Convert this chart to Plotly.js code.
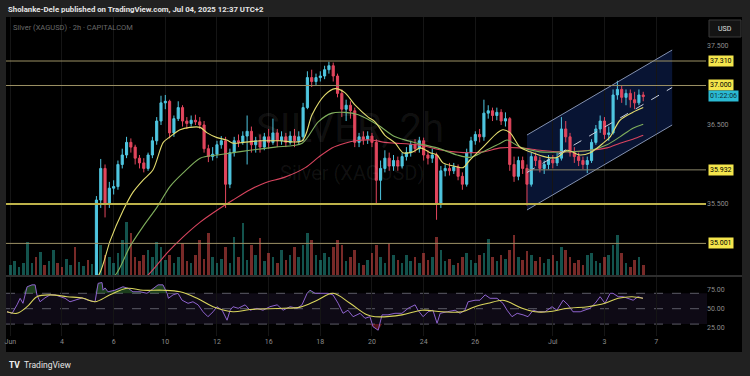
<!DOCTYPE html>
<html><head><meta charset="utf-8">
<script src="https://cdn.plot.ly/plotly-3.0.1.min.js"></script>
<style>html,body{margin:0;padding:0;background:#212121;overflow:hidden}#chart{width:750px;height:376px}</style>
</head><body><div id="chart"></div>
<script>
// ---------- DATA ----------
const tickDays = [0,2,4,6,8,10,12,14,16,18,21,23,25];
const tickLabels = ["Jun","4","6","10","12","16","18","20","24","26","Jul","3","7"];
const barsPerDay = 6;
const openP = [33.30,33.45,33.80,34.05,34.20,34.30,34.35,34.28,34.38,34.25,34.32,34.40,34.28,34.20,34.30,34.35,34.25,34.32,34.40,34.38,
34.42,35.55,35.95,35.50,35.70,35.72,36.00,36.12,36.28,36.22,36.08,36.02,35.95,36.12,36.30,36.55,36.78,36.80,36.40,36.58,
36.72,36.55,36.52,36.56,36.54,36.50,36.20,36.10,36.13,36.25,36.30,35.75,36.15,36.30,36.28,36.36,36.42,36.25,36.30,36.22,
36.35,36.28,36.40,36.30,36.35,36.28,36.36,36.30,36.35,36.72,37.10,37.05,37.10,37.12,37.20,37.25,37.12,36.90,36.70,36.75,
36.68,36.28,36.35,36.32,36.36,36.28,35.80,35.95,36.08,35.98,36.05,35.98,36.10,36.15,36.25,36.20,36.30,36.12,36.08,36.12,
35.50,35.92,35.95,35.92,35.97,35.85,35.75,36.15,36.30,36.38,36.35,36.65,36.68,36.62,36.66,36.55,36.58,36.00,35.85,36.05,
35.95,35.75,36.10,36.05,35.95,36.00,36.06,36.02,36.08,36.45,36.35,36.15,36.10,36.05,36.00,36.05,36.28,36.45,36.55,36.38,
36.40,36.88,36.95,36.85,36.90,36.82,36.78,36.88];
const highP = [33.55,33.85,34.15,34.30,34.45,34.42,34.40,34.45,34.42,34.38,34.48,34.44,34.32,34.36,34.42,34.38,34.36,34.46,34.44,34.50,
35.60,36.07,36.00,35.78,35.80,36.05,36.20,36.35,36.33,36.25,36.12,36.08,36.15,36.35,36.60,36.87,36.88,36.82,36.62,36.80,
36.75,36.60,36.62,36.63,36.60,36.55,36.25,36.22,36.30,36.36,36.35,36.20,36.35,36.38,36.42,36.62,36.48,36.35,36.38,36.40,
36.45,36.58,36.45,36.42,36.40,36.42,36.45,36.42,36.78,37.18,37.20,37.15,37.18,37.25,37.30,37.29,37.15,36.95,36.82,36.80,
36.72,36.40,36.42,36.42,36.40,36.32,36.05,36.18,36.15,36.12,36.10,36.15,36.22,36.30,36.32,36.35,36.34,36.18,36.20,36.15,
35.98,36.00,36.02,36.02,36.00,35.90,36.20,36.35,36.42,36.45,36.82,36.75,36.72,36.72,36.70,36.66,36.60,36.10,36.10,36.10,
36.00,36.15,36.15,36.10,36.05,36.12,36.12,36.15,36.60,36.55,36.40,36.22,36.15,36.10,36.10,36.32,36.50,36.62,36.60,36.48,
36.95,37.06,37.00,36.95,36.95,36.92,36.95,36.92];
const lowP = [33.20,33.40,33.75,34.00,34.10,34.22,34.20,34.25,34.18,34.20,34.28,34.22,34.12,34.15,34.24,34.18,34.20,34.28,34.30,34.34,
34.38,35.45,35.33,35.45,35.62,35.68,35.95,36.08,36.15,36.00,35.95,35.90,35.92,36.08,36.25,36.50,36.70,36.33,36.35,36.55,
36.48,36.45,36.48,36.50,36.45,36.15,36.03,36.05,36.08,36.20,35.45,35.70,36.10,36.22,36.25,36.00,36.15,36.15,36.15,36.18,
36.20,36.25,36.22,36.25,36.22,36.25,36.22,36.26,36.30,36.70,36.98,37.00,37.05,37.08,37.15,37.05,36.85,36.60,36.55,36.58,
36.22,36.22,36.25,36.26,36.22,35.51,35.55,35.90,35.92,35.92,35.92,35.95,36.05,36.10,36.15,36.15,36.05,36.00,36.02,35.30,
35.45,35.85,35.86,35.88,35.80,35.68,35.72,36.10,36.25,36.28,36.30,36.58,36.55,36.56,36.50,36.48,35.92,35.78,35.80,35.88,
35.48,35.72,35.98,35.90,35.88,35.94,35.95,35.98,36.05,36.28,36.10,36.02,35.98,35.94,35.89,36.02,36.25,36.40,36.32,36.30,
36.38,36.82,36.78,36.75,36.72,36.70,36.75,36.80];
const closeP = [33.45,33.80,34.05,34.20,34.30,34.35,34.28,34.38,34.25,34.32,34.40,34.28,34.20,34.30,34.35,34.25,34.32,34.40,34.38,34.42,
35.55,35.95,35.50,35.70,35.72,36.00,36.12,36.28,36.22,36.08,36.02,35.95,36.12,36.30,36.55,36.78,36.80,36.40,36.58,36.72,
36.55,36.52,36.56,36.54,36.50,36.20,36.10,36.13,36.25,36.30,35.75,36.15,36.30,36.28,36.36,36.42,36.25,36.30,36.22,36.35,
36.28,36.40,36.30,36.35,36.28,36.36,36.30,36.35,36.72,37.10,37.05,37.10,37.12,37.20,37.25,37.12,36.90,36.70,36.75,36.68,
36.28,36.35,36.32,36.36,36.28,35.80,35.95,36.08,35.98,36.05,35.98,36.10,36.15,36.25,36.20,36.30,36.12,36.08,36.12,35.50,
35.92,35.95,35.92,35.97,35.85,35.75,36.15,36.30,36.38,36.35,36.65,36.68,36.62,36.66,36.55,36.58,36.00,35.85,36.05,35.95,
35.75,36.10,36.05,35.95,36.00,36.06,36.02,36.08,36.45,36.35,36.15,36.10,36.05,36.00,36.05,36.28,36.45,36.55,36.38,36.40,
36.88,36.95,36.85,36.90,36.82,36.78,36.88,36.86];
const volume = [10,14,8,12,33,12,18,23,10,14, 25,12,8,16,10,28,13,9,15,11, 20,30,20,18,12,22,35,53,42,18,
14,20,25,18,33,28,15,20,12,18, 32,14,12,20,35,16,42,18,12,16, 28,12,38,18,52,15,30,20,37,14,
22,18,12,25,15,20,28,18,30,42, 35,20,15,22,18,28,35,30,14,18, 25,12,10,15,22,30,18,12,32,20,
15,12,20,14,18,12,22,15,18,38, 25,14,16,10,12,18,22,15,12,20, 22,36,18,14,20,16,25,40,18,15,
24,20,14,18,12,16,20,14,28,25, 18,12,15,10,20,22,14,12,18,20, 30,40,22,12,8,15,18,10];

const maFastT = [2.5,3.0,3.47,3.87,4.37,4.75,5.13,5.52,5.92,6.18,6.57,6.95,7.35,7.62,8.0,8.38,8.62,9.02,9.67,10.43,11.3,11.68,12.18,12.57,12.95,13.35,13.85,14.12,14.5,14.9,15.2,15.58,15.87,16.25,16.52,16.75,17.3,17.53,17.8,18.3,18.85,19.07,19.35,19.73,20.12,20.78,21.17,21.55,22.05,22.45,22.95,23.22,23.6,24.1,24.5];
const maFastV = [34.30,34.42,34.63,35.04,35.42,35.65,35.80,35.93,36.28,36.35,36.44,36.47,36.47,36.40,36.34,36.31,36.27,36.28,36.30,36.30,36.30,36.63,36.88,36.96,36.91,36.75,36.60,36.54,36.37,36.27,36.15,36.16,36.21,36.15,36.12,36.02,35.97,35.96,36.06,36.22,36.40,36.44,36.40,36.22,36.16,36.09,36.09,36.18,36.12,36.15,36.27,36.35,36.56,36.66,36.72];
const maMidT = [3.0,3.5,4.13,4.63,5.13,5.68,6.18,6.68,7.35,8.0,8.62,9.28,10.25,11.3,11.92,12.45,12.95,13.47,14.23,14.9,15.75,16.52,17.3,17.8,18.3,18.97,19.23,19.73,20.5,21.4,22.45,23.1,23.6,24.1,24.5];
const maMidV = [34.20,34.40,34.63,34.96,35.21,35.46,35.72,35.89,36.08,36.12,36.15,36.18,36.22,36.27,36.54,36.65,36.66,36.63,36.50,36.35,36.27,36.21,36.12,36.09,36.16,36.27,36.31,36.22,36.16,36.16,36.18,36.25,36.35,36.46,36.51];
const maSlowT = [4.0,4.67,5.42,6.07,6.68,7.35,8.0,8.62,9.28,9.87,10.63,11.42,11.92,12.45,12.95,13.35,14.0,14.5,14.9,15.75,16.75,17.53,18.3,18.97,19.73,20.5,21.28,22.45,23.1,23.6,24.1,24.5];
const maSlowV = [34.20,34.40,34.63,34.88,35.08,35.27,35.42,35.55,35.68,35.77,35.84,35.96,36.09,36.21,36.27,36.30,36.31,36.28,36.27,36.25,36.18,36.15,36.16,36.21,36.21,36.18,36.16,36.18,36.21,36.27,36.32,36.37];

const rsiT = [-0.13,0.07,0.26,0.38,0.49,0.65,0.84,0.96,1.03,1.15,1.34,1.54,1.73,1.92,2.12,2.31,2.50,2.78,3.01,3.28,3.40,3.55,3.59,3.67,3.78,4.05,4.36,4.56,4.75,5.02,5.29,5.52,5.72,5.91,6.07,6.12,6.30,6.49,6.65,6.88,7.07,7.27,7.46,7.65,7.85,8.00,8.20,8.39,8.51,8.62,8.82,9.09,9.28,9.55,9.78,10.05,10.33,10.56,10.83,11.10,11.29,11.49,11.60,11.80,12.07,12.30,12.49,12.69,12.88,13.07,13.27,13.54,13.73,13.92,14.04,14.24,14.39,14.62,14.89,15.16,15.40,15.67,15.78,15.98,16.17,16.36,16.52,16.64,16.91,17.22,17.41,17.60,17.72,17.99,18.18,18.38,18.57,18.84,19.07,19.23,19.42,19.62,19.85,20.04,20.24,20.43,20.70,20.97,21.16,21.40,21.59,21.78,22.06,22.25,22.44,22.64,22.83,23.02,23.22,23.33,23.53,23.72,23.91,24.11,24.30,24.49];
const rsiV = [46,44,55,63.5,57,78.5,81,81,68,59,64,68,68,65.6,63.5,59,61,64,61,59,83,84,74,77,72,74,78.5,76.5,72,72,70,76.5,81,81,70,63.5,68,70,61,57,59,55,46,39.6,46,52.6,48,35,48,52.6,50.5,55,48,50.5,48,52.6,55,48,52.6,50.5,55,70,74,70,70,70,68,57,44,48,39.6,44,37.5,39.6,26.6,22,42,42,44,44,50.5,55,48,39.6,46,48,31,44,46,48,44,48,59,61,61,68,63.5,63.5,57,48,39.6,44,42,39.6,48,46,46,52.6,48,61,55,46,46,48,50.5,57,65.6,57,70,70,65.6,65.6,63.5,61,65.6,63.5];
const rsiMaT = [-0.13,0.26,0.65,1.03,1.54,2.20,2.82,3.28,3.86,4.52,5.14,5.91,6.57,7.23,7.85,8.62,9.28,10.56,11.22,11.88,12.49,13.15,13.81,14.12,15.16,15.94,16.71,17.49,17.99,18.49,19.04,19.27,19.81,20.31,20.82,21.59,22.36,23.02,23.53,24.07,24.49];
const rsiMaV = [46,44,52.6,65.6,68,65.6,63.5,59,68,76.5,74,74,72,63.5,52.6,46,49,50.5,52,61,70,57,42,39.6,42,48,46,46,52.6,57,61,59,50.5,46,46,50.5,52.6,57,63.5,65.6,63.5];

const levelPrices = [37.310, 37.000, 35.932, 35.500, 35.001];
const levelTexts = ["37.310", "37.000", "35.932", "", "35.001"];
const channelT = [20.0, 25.62];
const channelUpper = [36.373, 37.449];
const channelLower = [35.424, 36.500];
const priceTicks = [35.5, 36.5, 37.5];
const priceTickText = ["35.500","36.500","37.500"];
const rsiTicks = [25, 50, 75];
const rsiTickText = ["25.00","50.00","75.00"];
const rsiBands = [70, 50, 30];

// ---------- GEOMETRY ----------
const W=750, H=376, ML=6, MR=44, MT=17, MB=40;
const PW=W-ML-MR, PH=H-MT-MB;
const px = X => (X-ML)/PW;
const py = Y => (H-MB-Y)/PH;

const UP='#4fc6e0', DN='#e2465d';
const barT = openP.map((_, i) => i / barsPerDay);
const volColors = closeP.map((c, i) => c >= openP[i] ? 'rgba(38,166,154,0.5)' : 'rgba(239,83,80,0.5)');

const traces = [];
traces.push({type:'bar', x:barT, y:volume, xaxis:'x', yaxis:'y', width:0.1,
  marker:{color:volColors, line:{width:0}}, hoverinfo:'skip', showlegend:false});
traces.push({type:'candlestick', x:barT, open:openP, high:highP, low:lowP, close:closeP, xaxis:'x', yaxis:'y3',
  increasing:{line:{color:UP,width:1}, fillcolor:UP}, decreasing:{line:{color:DN,width:1}, fillcolor:DN},
  whiskerwidth:0, hoverinfo:'skip', showlegend:false});
const maLine = (t, v, c) => ({type:'scatter', mode:'lines', x:t, y:v, xaxis:'x', yaxis:'y3',
  line:{color:c, width:1.1, shape:'spline', smoothing:0.8}, hoverinfo:'skip', showlegend:false});
traces.push(maLine(maSlowT, maSlowV, '#d8445e'));
traces.push(maLine(maMidT, maMidV, '#7fae5c'));
traces.push(maLine(maFastT, maFastV, '#e3dc6e'));

// RSI overbought / oversold fills
traces.push({type:'scatter', mode:'lines', x:rsiT, y:rsiT.map(()=>70), xaxis:'x', yaxis:'y2', line:{width:0}, hoverinfo:'skip', showlegend:false});
traces.push({type:'scatter', mode:'lines', x:rsiT, y:rsiV.map(v=>Math.max(v,70)), xaxis:'x', yaxis:'y2', line:{width:0}, fill:'tonexty', fillcolor:'rgba(76,175,80,0.35)', hoverinfo:'skip', showlegend:false});
traces.push({type:'scatter', mode:'lines', x:rsiT, y:rsiT.map(()=>30), xaxis:'x', yaxis:'y2', line:{width:0}, hoverinfo:'skip', showlegend:false});
traces.push({type:'scatter', mode:'lines', x:rsiT, y:rsiV.map(v=>Math.min(v,30)), xaxis:'x', yaxis:'y2', line:{width:0}, fill:'tonexty', fillcolor:'rgba(242,54,69,0.35)', hoverinfo:'skip', showlegend:false});
traces.push({type:'scatter', mode:'lines', x:rsiT, y:rsiV, xaxis:'x', yaxis:'y2', line:{color:'#8e63ce', width:1}, hoverinfo:'skip', showlegend:false});
traces.push({type:'scatter', mode:'lines', x:rsiMaT, y:rsiMaV, xaxis:'x', yaxis:'y2', line:{color:'#d9d55c', width:1.1, shape:'spline'}, hoverinfo:'skip', showlegend:false});

// ---------- SHAPES ----------
const shapes = [];
shapes.push({type:'rect', xref:'paper', yref:'paper', x0:px(6), x1:px(742), y0:py(352), y1:py(17), fillcolor:'#000', line:{width:0}, layer:'below'});
shapes.push({type:'rect', xref:'paper', yref:'y2', x0:0, x1:px(707), y0:30, y1:70, fillcolor:'rgba(126,87,194,0.11)', line:{width:0}, layer:'below'});
rsiBands.forEach(b => shapes.push({type:'line', xref:'paper', yref:'y2', x0:0, x1:px(707), y0:b, y1:b, line:{color:'#5c5c66', width:1, dash:'dash'}, layer:'below'}));
shapes.push({type:'path', xref:'x', yref:'y3', layer:'below', line:{width:0}, fillcolor:'rgba(41,98,255,0.2)',
  path:`M ${channelT[0]},${channelUpper[0]} L ${channelT[1]},${channelUpper[1]} L ${channelT[1]},${channelLower[1]} L ${channelT[0]},${channelLower[0]} Z`});
shapes.push({type:'line', xref:'x', yref:'y3', x0:channelT[0], x1:channelT[1], y0:channelUpper[0], y1:channelUpper[1], line:{color:'#8391b0', width:1}});
shapes.push({type:'line', xref:'x', yref:'y3', x0:channelT[0], x1:channelT[1], y0:channelLower[0], y1:channelLower[1], line:{color:'#8391b0', width:1}});
shapes.push({type:'line', xref:'x', yref:'y3', x0:channelT[0], x1:channelT[1], y0:(channelUpper[0]+channelLower[0])/2, y1:(channelUpper[1]+channelLower[1])/2, line:{color:'#c8cfdd', width:1, dash:'dash'}});
levelPrices.forEach((p, i) => {
  let s = {type:'line', xref:'paper', yref:'y3', x0:0, x1:1, y0:p, y1:p, line:{color:'#9c9165', width:1}};
  if (i === 3) s.line = {color:'#bdb24a', width:2};
  if (i === 2) { s.xref = 'x'; s.x0 = channelT[0]; s.x1 = 30; s.line = {color:'#8a856a', width:1}; }
  shapes.push(s);
});
shapes.push({type:'line', xref:'paper', yref:'paper', x0:0, x1:px(742), y0:py(276), y1:py(276), line:{color:'#3e3e3e', width:1.5}});
shapes.push({type:'rect', xref:'paper', yref:'paper', x0:px(709), x1:px(741), y0:py(37), y1:py(20), fillcolor:'#141414', line:{color:'#3a3a3a', width:1}});

// ---------- ANNOTATIONS ----------
const ann = [];
const F = 'Roboto, sans-serif';
ann.push({xref:'paper', yref:'paper', x:px(6), y:py(9), xanchor:'left', yanchor:'middle', showarrow:false,
  text:'<b>Sholanke-Dele published on TradingView.com, Jul 04, 2025 12:37 UTC+2</b>', font:{size:7.8, color:'#e6e6e6', family:F}});
ann.push({xref:'paper', yref:'paper', x:px(11), y:py(28), xanchor:'left', yanchor:'middle', showarrow:false,
  text:'Silver (XAGUSD) · 2h · CAPITALCOM', font:{size:7.5, color:'#6a6a6a', family:F}});
ann.push({xref:'paper', yref:'paper', x:px(725), y:py(28.5), xanchor:'center', yanchor:'middle', showarrow:false,
  text:'USD', font:{size:7, color:'#e0e0e0', family:F}});
ann.push({xref:'paper', yref:'paper', x:px(350), y:py(128), xanchor:'center', yanchor:'middle', showarrow:false,
  text:'SILVER, 2h', font:{size:40, color:'rgba(255,255,255,0.07)', family:F}});
ann.push({xref:'paper', yref:'paper', x:px(352), y:py(173), xanchor:'center', yanchor:'middle', showarrow:false,
  text:'Silver (XAGUSD)', font:{size:20, color:'rgba(255,255,255,0.07)', family:F}});
levelPrices.forEach((p, i) => {
  if (!levelTexts[i]) return;
  ann.push({xref:'paper', yref:'y3', x:px(721), y:p, xanchor:'center', yanchor:'middle', showarrow:false,
    text:levelTexts[i], bgcolor:'#f4e54c', borderpad:1, font:{size:7, color:'#000', family:F}});
});
ann.push({xref:'paper', yref:'paper', x:px(723.5), y:py(96), xanchor:'center', yanchor:'middle', showarrow:false,
  text:'01:22:06', bgcolor:'#2bbad3', borderpad:1, font:{size:7, color:'#0b2d36', family:F}});
ann.push({xref:'paper', yref:'paper', x:px(7), y:py(365), xanchor:'left', yanchor:'middle', showarrow:false,
  text:'<b>TV</b>', font:{size:8.5, color:'#f0f0f0', family:F}});
ann.push({xref:'paper', yref:'paper', x:px(22), y:py(365), xanchor:'left', yanchor:'middle', showarrow:false,
  text:'TradingView', font:{size:8.5, color:'#e6e6e6', family:F}});

const tickFont = {size:7, color:'#8c8c8c', family:F};
const layout = {
  width:W, height:H, margin:{l:ML, r:MR, t:MT, b:MB},
  paper_bgcolor:'#212121', plot_bgcolor:'#000', showlegend:false,
  xaxis:{range:[-0.167, 26.93], anchor:'y2', tickvals:tickDays, ticktext:tickLabels, tickfont:tickFont,
    showgrid:true, gridcolor:'#151515', gridwidth:1, zeroline:false, showline:false, ticks:'',
    rangeslider:{visible:false}, fixedrange:true},
  yaxis:{domain:[py(275), 1], range:[0, 258], visible:false, fixedrange:true},
  yaxis3:{overlaying:'y', side:'right', range:[34.601, 37.867], tickvals:priceTicks, ticktext:priceTickText,
    tickfont:tickFont, showgrid:false, zeroline:false, showline:false, ticks:'', fixedrange:true},
  yaxis2:{domain:[0, py(277)], range:[14.5, 91.2], side:'right', tickvals:rsiTicks, ticktext:rsiTickText,
    tickfont:tickFont, showgrid:false, zeroline:false, showline:false, ticks:'', fixedrange:true},
  shapes:shapes, annotations:ann, bargap:0
};
Plotly.newPlot('chart', traces, layout, {displayModeBar:false, staticPlot:true});
</script></body></html>
